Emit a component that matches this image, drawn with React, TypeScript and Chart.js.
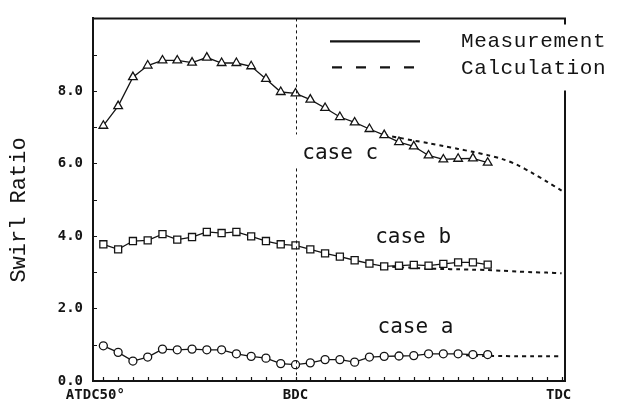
import React, { useEffect, useRef } from "react";
import { Chart, registerables } from "chart.js";

Chart.register(...registerables);

// Crank angle (deg) of measured points
const measAngles = [50, 60, 70, 80, 90, 100, 110, 120, 130, 140, 150, 160, 170, 180, 190, 200, 210, 220, 230, 240, 250, 260, 270, 280, 290, 300, 310];

const caseAMeas = [0.97, 0.79, 0.55, 0.66, 0.88, 0.86, 0.88, 0.86, 0.86, 0.75, 0.68, 0.63, 0.48, 0.45, 0.5, 0.59, 0.59, 0.52, 0.66, 0.68, 0.69, 0.7, 0.75, 0.75, 0.75, 0.73, 0.73];
const caseBMeas = [3.77, 3.63, 3.86, 3.88, 4.05, 3.9, 3.97, 4.11, 4.08, 4.11, 3.99, 3.86, 3.77, 3.74, 3.63, 3.52, 3.43, 3.33, 3.24, 3.16, 3.18, 3.2, 3.18, 3.23, 3.27, 3.27, 3.21];
const caseCMeas = [7.04, 7.58, 8.38, 8.7, 8.84, 8.84, 8.78, 8.92, 8.77, 8.77, 8.68, 8.33, 7.97, 7.93, 7.76, 7.53, 7.28, 7.13, 6.95, 6.78, 6.59, 6.47, 6.22, 6.11, 6.13, 6.14, 6.02];

// Calculation curves
const calcAnglesA = [290, 300, 310, 320, 330, 340, 350, 360];
const caseACalc = [0.72, 0.7, 0.69, 0.69, 0.68, 0.68, 0.68, 0.68];
const calcAnglesB = [240, 250, 260, 270, 280, 290, 300, 310, 320, 330, 340, 350, 360];
const caseBCalc = [3.16, 3.14, 3.12, 3.1, 3.09, 3.08, 3.07, 3.06, 3.04, 3.02, 3.0, 2.99, 2.97];
const calcAnglesC = [240, 250, 260, 270, 280, 290, 300, 310, 320, 330, 340, 350, 360];
const caseCCalc = [6.78, 6.71, 6.63, 6.56, 6.48, 6.4, 6.32, 6.23, 6.12, 5.96, 5.74, 5.5, 5.25];

// Axis labels
const yLabelValues = [0, 2, 4, 6, 8];
const xLabelValues = [50, 180, 360];
const xLabelTexts = ["ATDC50°", "BDC", "TDC"];
const yTitle = "Swirl Ratio";
const legendTexts = ["Measurement", "Calculation"];
const caseTexts = ["case a", "case b", "case c"];

const INK = "#141414";

const pts = (xs: number[], ys: number[]) => xs.map((x, i) => ({ x, y: ys[i] }));

const decorPlugin = {
  id: "decor",
  afterDraw(chart: any) {
    const ctx = chart.ctx as CanvasRenderingContext2D;
    const { left, right, top, bottom } = chart.chartArea;
    const xs = chart.scales.x;
    const ys = chart.scales.y;
    ctx.save();
    ctx.strokeStyle = INK;
    ctx.fillStyle = INK;

    // frame: top and right (right one interrupted by legend)
    ctx.lineWidth = 2;
    ctx.setLineDash([]);
    ctx.beginPath();
    ctx.moveTo(left, top);
    ctx.lineTo(right, top);
    ctx.moveTo(right, top - 1);
    ctx.lineTo(right, top + 6);
    ctx.moveTo(right, top + 72);
    ctx.lineTo(right, bottom);
    ctx.stroke();

    // inward ticks on x axis
    ctx.lineWidth = 1.2;
    ctx.beginPath();
    for (let v = 50; v <= 360; v += 10) {
      const px = Math.round(xs.getPixelForValue(v)) + 0.5;
      ctx.moveTo(px, bottom);
      ctx.lineTo(px, bottom - 4);
    }
    // inward ticks on y axis
    for (let v = 1; v <= 9; v += 1) {
      const py = Math.round(ys.getPixelForValue(v)) + 0.5;
      ctx.moveTo(left, py);
      ctx.lineTo(left + 4, py);
    }
    ctx.stroke();

    // BDC dashed line
    const bx = Math.round(xs.getPixelForValue(180)) + 0.5;
    const cBase = ys.getPixelForValue(6.11);
    ctx.lineWidth = 1;
    ctx.setLineDash([3, 3]);
    ctx.beginPath();
    ctx.moveTo(bx, top);
    ctx.lineTo(bx, cBase - 25);
    ctx.moveTo(bx, cBase + 9);
    ctx.lineTo(bx, bottom);
    ctx.stroke();

    // x labels
    ctx.setLineDash([]);
    ctx.font = "bold 14px 'DejaVu Sans Mono'";
    ctx.textAlign = "center";
    ctx.textBaseline = "middle";
    const xOff = [-8, 0, -3];
    xLabelValues.forEach((v, i) => {
      ctx.fillText(xLabelTexts[i], xs.getPixelForValue(v) + xOff[i], bottom + 14);
    });

    // y title
    ctx.save();
    ctx.font = "22px 'Liberation Mono'";
    ctx.translate(19, 210);
    ctx.rotate(-Math.PI / 2);
    ctx.textAlign = "center";
    ctx.textBaseline = "middle";
    ctx.fillText(yTitle, 0, 0);
    ctx.restore();

    // legend
    ctx.lineWidth = 2.2;
    ctx.beginPath();
    ctx.moveTo(330, top + 23);
    ctx.lineTo(420, top + 23);
    ctx.stroke();
    ctx.setLineDash([10, 14]);
    ctx.lineWidth = 2.2;
    ctx.beginPath();
    ctx.moveTo(332, top + 49);
    ctx.lineTo(420, top + 49);
    ctx.stroke();
    ctx.setLineDash([]);
    ctx.font = "21px 'Liberation Mono'";
    (ctx as any).letterSpacing = "0.6px";
    ctx.textAlign = "left";
    ctx.textBaseline = "middle";
    ctx.fillText(legendTexts[0], 461, top + 23);
    ctx.fillText(legendTexts[1], 461, top + 50);

    // case labels
    (ctx as any).letterSpacing = "0px";
    ctx.font = "21px 'DejaVu Sans Mono'";
    ctx.textBaseline = "alphabetic";
    const casePos = [
      [235.5, 1.32],
      [233.9, 3.81],
      [184.6, 6.11],
    ];
    caseTexts.forEach((t, i) => {
      ctx.fillText(t, xs.getPixelForValue(casePos[i][0]), ys.getPixelForValue(casePos[i][1]));
    });

    ctx.restore();
  },
};

export default function App() {
  const ref = useRef<HTMLCanvasElement | null>(null);

  useEffect(() => {
    document.body.style.margin = "0";
    document.body.style.background = "#ffffff";
    const canvas = ref.current;
    if (!canvas) return;

    const measStyle = (data: number[], style: string, r: number) => ({
      data: pts(measAngles, data),
      borderColor: INK,
      borderWidth: 1.3,
      pointStyle: style,
      pointRadius: r,
      pointBackgroundColor: "#ffffff",
      pointBorderColor: INK,
      pointBorderWidth: 1.3,
      tension: 0,
      fill: false,
    });
    const calcStyle = (xs: number[], data: number[]) => ({
      data: pts(xs, data),
      borderColor: INK,
      borderWidth: 2,
      borderDash: [4, 4],
      pointRadius: 0,
      tension: 0.3,
      fill: false,
    });

    const chart = new Chart(canvas, {
      type: "line",
      data: {
        datasets: [
          measStyle(caseAMeas, "circle", 4),
          measStyle(caseBMeas, "rect", 5),
          measStyle(caseCMeas, "triangle", 5),
          calcStyle(calcAnglesA, caseACalc),
          calcStyle(calcAnglesB, caseBCalc),
          calcStyle(calcAnglesC, caseCCalc),
        ] as any,
      },
      options: {
        animation: false,
        responsive: false,
        maintainAspectRatio: false,
        events: [],
        layout: { padding: { left: 0, top: 11, right: 55, bottom: 0 } },
        plugins: {
          legend: { display: false },
          tooltip: { enabled: false },
        },
        scales: {
          x: {
            type: "linear",
            min: 43,
            max: 362.3,
            grid: { display: false, drawTicks: false },
            border: { display: true, color: INK, width: 2 },
            ticks: { display: false },
            afterFit: (s: any) => {
              s.height = 22;
            },
          },
          y: {
            type: "linear",
            min: 0,
            max: 10,
            grid: { display: false, drawTicks: false },
            border: { display: true, color: INK, width: 2 },
            ticks: {
              stepSize: 1,
              padding: 10,
              color: INK,
              font: { family: "'DejaVu Sans Mono'", weight: "bold", size: 14 },
              callback: (v: any) => (yLabelValues.includes(Number(v)) ? Number(v).toFixed(1) : ""),
            },
            afterFit: (s: any) => {
              s.width = 93;
            },
          },
        },
      } as any,
      plugins: [decorPlugin],
    });

    return () => chart.destroy();
  }, []);

  return (
    <div style={{ width: 620, height: 403, position: "relative" }}>
      <canvas ref={ref} width={620} height={403} style={{ display: "block" }} />
    </div>
  );
}
